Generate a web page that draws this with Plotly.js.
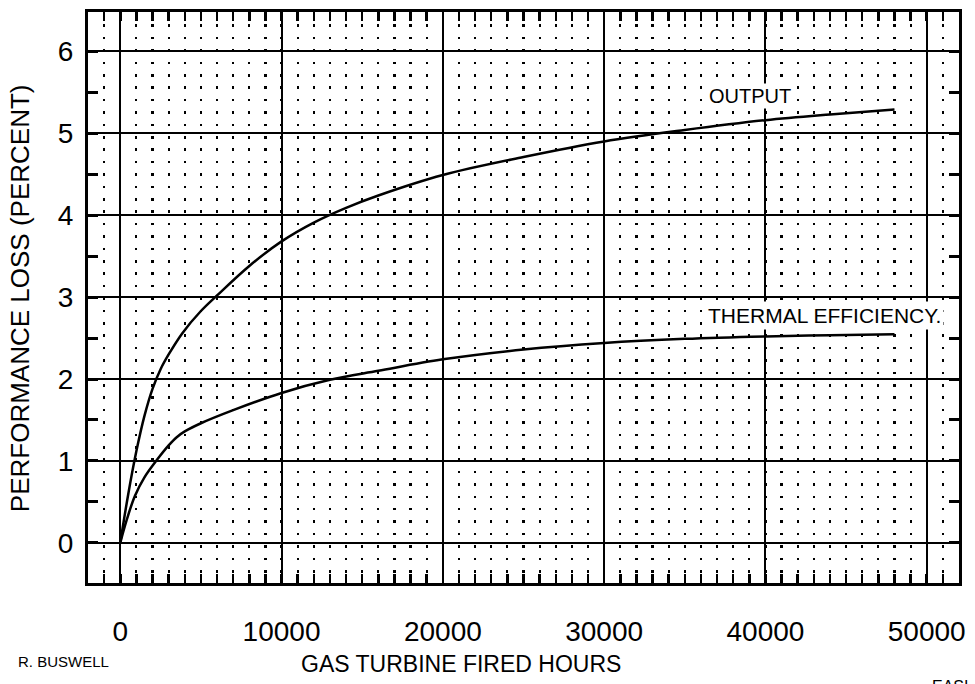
<!DOCTYPE html>
<html>
<head>
<meta charset="utf-8">
<script src="https://cdn.plot.ly/plotly-3.0.1.min.js"></script>
<style>html,body{margin:0;padding:0;background:#fff;}#chart{width:975px;height:684px;}</style>
</head>
<body>
<div id="chart"></div>
<script>
// Gas turbine fired hours
const outputHours = [0, 500, 1000, 1500, 2000, 2500, 3000, 3850, 5000, 6000, 8000, 10000, 12000, 14000, 16000, 20000, 25000, 30000, 35000, 40000, 44000, 48000];
// Performance loss (percent) - output
const outputLoss = [0, 0.6, 1.12, 1.55, 1.88, 2.12, 2.3, 2.56, 2.83, 3.02, 3.38, 3.68, 3.91, 4.09, 4.24, 4.49, 4.71, 4.9, 5.04, 5.16, 5.23, 5.29];

const thermalHours = [0, 400, 900, 1500, 2300, 3000, 3500, 4000, 5000, 7000, 10000, 13000, 16000, 20000, 25000, 30000, 35000, 40000, 44000, 48000];
// Performance loss (percent) - thermal efficiency
const thermalLoss = [0, 0.28, 0.57, 0.8, 1.02, 1.19, 1.29, 1.36, 1.46, 1.62, 1.83, 1.99, 2.1, 2.24, 2.36, 2.44, 2.49, 2.52, 2.535, 2.545];

const xTickVals = [0, 10000, 20000, 30000, 40000, 50000];
const xTickText = ['0', '10000', '20000', '30000', '40000', '50000'];
const yTickVals = [0, 1, 2, 3, 4, 5, 6];
const yTickText = ['0', '1', '2', '3', '4', '5', '6'];

const seriesLabels = ['OUTPUT', 'THERMAL EFFICIENCY.'];

const FONT = 'Liberation Sans, Arial, Helvetica, sans-serif';

const traces = [
  {x: outputHours, y: outputLoss, mode: 'lines', name: seriesLabels[0],
   line: {color: '#000', width: 2.5, shape: 'spline', smoothing: 1}},
  {x: thermalHours, y: thermalLoss, mode: 'lines', name: seriesLabels[1],
   line: {color: '#000', width: 2.5, shape: 'spline', smoothing: 1}}
];

const layout = {
  width: 975, height: 684,
  margin: {l: 88, r: 16, t: 12, b: 101},
  paper_bgcolor: '#fff', plot_bgcolor: '#fff',
  showlegend: false,
  font: {family: FONT, color: '#000'},
  xaxis: {
    range: [-2000, 52000],
    tickmode: 'array', tickvals: xTickVals, ticktext: xTickText,
    tickfont: {family: FONT, size: 28, color: '#000'},
    ticks: 'inside', ticklen: 9, tickwidth: 2.5, tickcolor: '#000',
    ticklabelstandoff: 21,
    showgrid: true, gridcolor: '#000', gridwidth: 2,
    zeroline: false,
    showline: true, linecolor: '#000', linewidth: 3, mirror: 'allticks',
    minor: {dtick: 1000, tick0: 0, ticks: 'inside', ticklen: 9, tickwidth: 2.5, tickcolor: '#000',
            showgrid: true, gridcolor: '#000', gridwidth: 2.2, griddash: '2.5px,9.9px'}
  },
  yaxis: {
    range: [-0.49, 6.48],
    tickmode: 'array', tickvals: yTickVals, ticktext: yTickText,
    tickfont: {family: FONT, size: 28, color: '#000'},
    ticks: '', ticklabelstandoff: 6,
    showgrid: true, gridcolor: '#000', gridwidth: 2,
    zeroline: false,
    showline: true, linecolor: '#000', linewidth: 3, mirror: 'allticks',
    minor: {dtick: 0.5, tick0: 0.5, ticks: 'inside', ticklen: 10, tickwidth: 3, tickcolor: '#000', showgrid: false}
  },
  annotations: [
    {text: seriesLabels[0], xref: 'x', yref: 'y', x: 39030, y: 5.46, showarrow: false,
     xanchor: 'center', yanchor: 'middle',
     font: {family: FONT, size: 20, color: '#000'}, bgcolor: '#fff', borderpad: 1},
    {text: seriesLabels[1], xref: 'x', yref: 'y', x: 43680, y: 2.77, showarrow: false,
     xanchor: 'center', yanchor: 'middle',
     font: {family: FONT, size: 21, color: '#000'}, bgcolor: '#fff', borderpad: 2},
    {text: 'PERFORMANCE LOSS (PERCENT)', xref: 'paper', yref: 'paper', x: -0.078, y: 0.499,
     xanchor: 'center', yanchor: 'middle',
     textangle: -90, showarrow: false, font: {family: FONT, size: 26, color: '#000'}},
    {text: 'GAS TURBINE FIRED HOURS', xref: 'paper', yref: 'paper', x: 0.428, y: -0.142,
     xanchor: 'center', yanchor: 'middle',
     showarrow: false, font: {family: FONT, size: 23, color: '#000'}},
    {text: 'R. BUSWELL', xref: 'paper', yref: 'paper', x: -0.0276, y: -0.138,
     xanchor: 'center', yanchor: 'middle',
     showarrow: false, font: {family: FONT, size: 15, color: '#000'}},
    {text: 'EASI', xref: 'paper', yref: 'paper', x: 0.967, y: -0.163, xanchor: 'left', yanchor: 'top',
     showarrow: false, font: {family: FONT, size: 16, color: '#000'}}
  ]
};

Plotly.newPlot('chart', traces, layout, {displayModeBar: false, staticPlot: true});
</script>
</body>
</html>
